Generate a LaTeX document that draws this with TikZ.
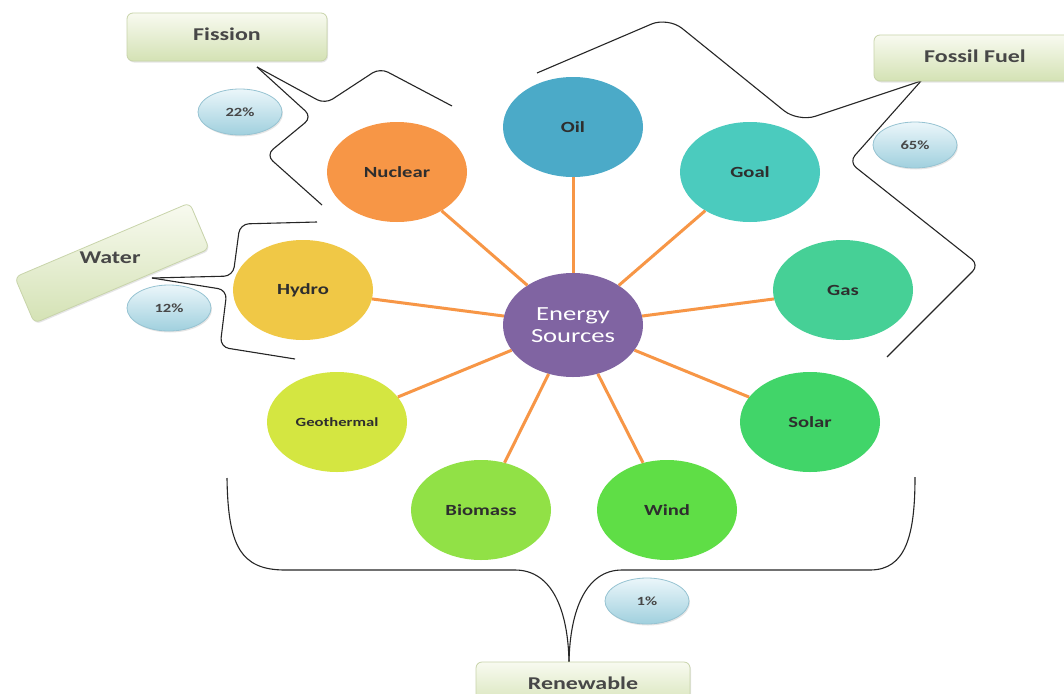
\documentclass[tikz,border=0pt]{standalone}
\usepackage{fontspec}
\setmainfont{Carlito}
\usetikzlibrary{shapes.geometric,shadows}
\definecolor{cOil}{RGB}{75,170,200}
\definecolor{cGoal}{RGB}{75,203,190}
\definecolor{cGas}{RGB}{70,208,150}
\definecolor{cSolar}{RGB}{65,213,105}
\definecolor{cWind}{RGB}{95,222,70}
\definecolor{cBio}{RGB}{145,225,70}
\definecolor{cGeo}{RGB}{212,230,65}
\definecolor{cHydro}{RGB}{240,200,70}
\definecolor{cNuc}{RGB}{247,150,70}
\definecolor{cCenter}{RGB}{128,100,162}
\definecolor{spokec}{RGB}{247,150,70}
\definecolor{boxtop}{RGB}{248,250,240}
\definecolor{boxbot}{RGB}{212,226,180}
\definecolor{boxedge}{RGB}{200,212,170}
\definecolor{pcttop}{RGB}{235,246,250}
\definecolor{pctbot}{RGB}{160,208,222}
\definecolor{pctedge}{RGB}{150,195,210}
\newcommand\stretchtxt[1]{\scalebox{1.33}[1]{#1}}
\begin{document}
\begin{tikzpicture}[x=1pt,y=-1pt,
  src/.style={ellipse, minimum width=140pt, minimum height=100pt, inner sep=0pt,
    font=\fontsize{15.5}{17}\selectfont\bfseries, text=black!82},
  spoke/.style={draw=spokec, line width=3pt},
  lbl/.style={rectangle, rounded corners=6pt, minimum width=200pt, minimum height=48pt,
    top color=boxtop, bottom color=boxbot, draw=boxedge, line width=0.8pt,
    drop shadow={opacity=0.2, shadow xshift=1pt, shadow yshift=-1.5pt}},
  lbltext/.style={font=\fontsize{18}{20}\selectfont\bfseries, text=black!72},
  pct/.style={ellipse, minimum width=84pt, minimum height=46pt, inner sep=0pt,
    top color=pcttop, bottom color=pctbot, draw=pctedge, line width=0.8pt,
    drop shadow={opacity=0.2, shadow xshift=1pt, shadow yshift=-1.5pt},
    font=\fontsize{12.5}{14}\selectfont\bfseries, text=black!72},
  brace/.style={draw=black!85, line width=1.1pt, rounded corners=9pt}]
\clip (0,0) rectangle (1064,693);
\fill[white] (0,0) rectangle (1064,693);

% braces
\coordinate (fisT) at (257,67);
\coordinate (fosT) at (921,81);
\coordinate (watT) at (152,278);
\coordinate (renT) at (569,662);
\draw[brace] (fisT) -- (325,104) -- (380,68) -- (452,106);
\draw[brace] (fisT) -- (312,117) -- (266,155) -- (322,205);
\draw[brace, rounded corners=18pt] (fosT) -- (798,122) -- (668,17) -- (537,73);
\draw[brace] (fosT) -- (849,162) -- (979,265) -- (887,357);
\draw[brace] (watT) -- (233,276) -- (240,224) -- (317,222);
\draw[brace] (watT) -- (227,290) -- (220,347) -- (295,359);
\draw[draw=black!85, line width=1.1pt] (227,478) .. controls (228,545) and (240,570) .. (285,570)
  -- (515,570) .. controls (552,570) and (568,610) .. (renT);
\draw[draw=black!85, line width=1.1pt] (renT) .. controls (570,610) and (586,570) .. (622,570)
  -- (870,570) .. controls (906,570) and (915,535) .. (915,477);

% source nodes
\node[src, fill=cCenter, minimum height=104pt, text=white,
  font=\fontsize{20}{23}\selectfont, align=center] (c) at (573,325)
  {\stretchtxt{Energy}\\[-1pt]\stretchtxt{Sources}};
\node[src, fill=cOil] (oil) at (573,127) {\stretchtxt{Oil}};
\node[src, fill=cGoal] (goal) at (750,172) {\stretchtxt{Goal}};
\node[src, fill=cGas] (gas) at (843,290) {\stretchtxt{Gas}};
\node[src, fill=cSolar] (solar) at (810,422) {\stretchtxt{Solar}};
\node[src, fill=cWind] (wind) at (667,510) {\stretchtxt{Wind}};
\node[src, fill=cBio] (bio) at (481,510) {\stretchtxt{Biomass}};
\node[src, fill=cGeo, font=\fontsize{12.5}{14}\selectfont\bfseries] (geo) at (337,422) {\stretchtxt{Geothermal}};
\node[src, fill=cHydro] (hydro) at (303,290) {\stretchtxt{Hydro}};
\node[src, fill=cNuc] (nuc) at (397,172) {\stretchtxt{Nuclear}};

\foreach \n in {oil,goal,gas,solar,wind,bio,geo,hydro,nuc}
  \draw[spoke] (c) -- (\n);

% category labels
\node[lbl] (fission) at (227,37) {};
\node[lbltext] (fissiont) at (227,34) {\stretchtxt{Fission}};
\node[lbl, minimum height=46pt] (fossil) at (974,58) {};
\node[lbltext] (fossilt) at (975,56) {\stretchtxt{Fossil Fuel}};
\node[lbl, rotate=23, minimum width=190pt, minimum height=50pt] (waterbox) at (112,263) {};
\node[lbltext] (water) at (110,258) {\stretchtxt{Water}};
\node[lbl, minimum width=214pt] (renew) at (583,686) {};
\node[lbltext] (renewt) at (583,683) {\stretchtxt{Renewable}};

% percentages
\node[pct] (p22) at (240,112) {\stretchtxt{22\%}};
\node[pct] (p65) at (915,145) {\stretchtxt{65\%}};
\node[pct] (p12) at (169,308) {\stretchtxt{12\%}};
\node[pct] (p1) at (647,601) {\stretchtxt{1\%}};
\end{tikzpicture}
\end{document}
